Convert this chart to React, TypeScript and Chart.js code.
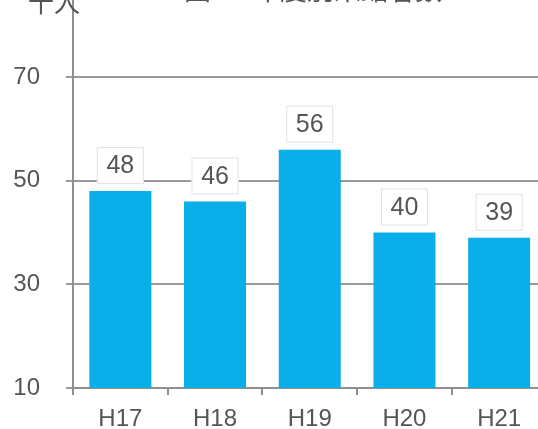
import React, { useEffect, useRef } from "react";
import { Chart, registerables } from "chart.js";

Chart.register(...registerables);

const categories = ["H17", "H18", "H19", "H20", "H21"];
const visitors = [48, 46, 56, 40, 39];
const yTicks = [10, 30, 50, 70];
const titleText = "図2　年度別来館者数";
const unitText = "千人";

const CANVAS_W = 560;
const CANVAS_H = 469;
const SHIFT_Y = 40;

const labelFont = '25px "Liberation Sans", Arial, sans-serif';
const tickFont = { family: '"Liberation Sans", Arial, sans-serif', size: 24 };
const textColor = "#555555";
const axisColor = "#8f8f8f";

// Boxed value labels above each bar, plus the heading and unit text
const overlayPlugin = {
  id: "overlay",
  afterDatasetsDraw(chart: any) {
    const ctx = chart.ctx;
    const meta = chart.getDatasetMeta(0);
    ctx.save();
    meta.data.forEach((bar: any, i: number) => {
      const w = 47;
      const h = 37;
      const x = bar.x - w / 2;
      const y = bar.y - 7 - h;
      ctx.fillStyle = "#ffffff";
      ctx.fillRect(x, y, w, h);
      ctx.strokeStyle = "#e2e2e2";
      ctx.lineWidth = 1;
      ctx.strokeRect(x + 0.5, y + 0.5, w - 1, h - 1);
      ctx.fillStyle = textColor;
      ctx.font = labelFont;
      ctx.textAlign = "center";
      ctx.textBaseline = "middle";
      ctx.fillText(String(visitors[i]), bar.x, y + h / 2 + 1);
    });
    ctx.restore();
  },
  afterDraw(chart: any) {
    const ctx = chart.ctx;
    ctx.save();
    ctx.fillStyle = textColor;
    ctx.textBaseline = "alphabetic";
    ctx.font = '26px "Noto Sans CJK JP", sans-serif';
    ctx.textAlign = "left";
    ctx.fillText(unitText, 28, 52);
    ctx.font = '27px "Noto Sans CJK JP", sans-serif';
    ctx.fillText(titleText, 184, 40);
    ctx.restore();
  },
};

export default function App() {
  const ref = useRef<HTMLCanvasElement | null>(null);

  useEffect(() => {
    if (!ref.current) return;
    const chart = new Chart(ref.current, {
      type: "bar",
      data: {
        labels: categories,
        datasets: [
          {
            data: visitors,
            backgroundColor: "#0aaee9",
            borderWidth: 0,
            categoryPercentage: 1,
            barPercentage: 0.655,
          },
        ],
      },
      options: {
        responsive: false,
        animation: false,
        devicePixelRatio: 1,
        layout: { padding: { top: 12, right: 13.5, left: 0, bottom: 0 } },
        plugins: {
          legend: { display: false },
          tooltip: { enabled: false },
        },
        scales: {
          x: {
            grid: {
              drawOnChartArea: false,
              drawTicks: true,
              tickLength: 7,
              offset: true,
              color: axisColor,
              lineWidth: 2,
            },
            border: { display: true, color: axisColor, width: 2 },
            ticks: { color: textColor, font: tickFont, padding: 10 },
            afterFit(scale: any) {
              scale.height = 41;
            },
          },
          y: {
            min: 10,
            max: 84.8,
            afterBuildTicks(scale: any) {
              scale.ticks = yTicks.map((v) => ({ value: v }));
            },
            grid: {
              color: "#9a9a9a",
              lineWidth: 2,
              tickLength: 7,
              drawTicks: true,
            },
            border: { display: true, color: axisColor, width: 2 },
            ticks: { color: textColor, font: tickFont, padding: 26 },
            afterFit(scale: any) {
              scale.width = 73;
            },
          },
        },
      },
      plugins: [overlayPlugin],
    });
    return () => chart.destroy();
  }, []);

  return (
    <div
      style={{
        position: "fixed",
        left: 0,
        top: 0,
        width: 538,
        height: 429,
        overflow: "hidden",
        background: "#ffffff",
      }}
    >
      <canvas
        ref={ref}
        width={CANVAS_W}
        height={CANVAS_H}
        style={{ position: "absolute", left: 0, top: -SHIFT_Y, width: CANVAS_W, height: CANVAS_H }}
      />
    </div>
  );
}
